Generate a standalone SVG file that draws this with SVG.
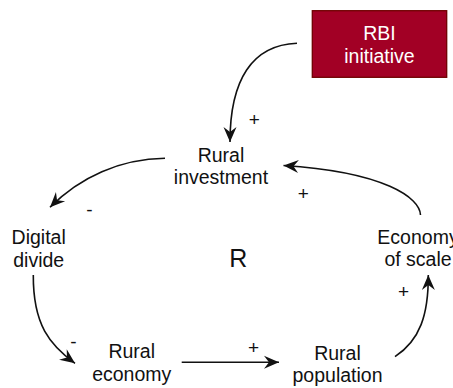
<svg xmlns="http://www.w3.org/2000/svg" width="453" height="388" viewBox="0 0 453 388">
<style>
.lbl{font-family:"Liberation Sans",Arial,sans-serif;font-size:19.5px;fill:#111;text-anchor:middle}
.wht{fill:#fff}
.pol{font-family:"Liberation Sans",Arial,sans-serif;font-size:19px;fill:#111;text-anchor:middle}
.big{font-family:"Liberation Sans",Arial,sans-serif;font-size:25px;fill:#111;text-anchor:middle}
.edge{fill:none;stroke:#111;stroke-width:1.6;marker-end:url(#arr)}
</style>
<defs>
<marker id="arr" markerUnits="userSpaceOnUse" markerWidth="16" markerHeight="14" refX="15" refY="6.5" orient="auto" overflow="visible">
<path d="M0,0 L15,6.5 L0,13 L5,6.5 Z" fill="#111"/>
</marker>
</defs>
<rect width="453" height="388" fill="#fff"/>
<g id="connectors">
<path class="edge" d="M297 43.3 C252 45 230 80 230 142"/>
<path class="edge" d="M420.5 215 C420 198 385 172 283.5 165.5"/>
<path class="edge" d="M165 158.3 C120 159 80 177 50 207.3"/>
<path class="edge" d="M33.3 275 C33 325 50 345 75 363.3"/>
<path class="edge" d="M181.7 362.3 L279 362.3"/>
<path class="edge" d="M395 356.7 C420 340 428.5 315 428.3 275"/>
</g>
<g id="polarities">
<text class="pol" x="254.3" y="125.7">+</text>
<text class="pol" x="303.3" y="199.7">+</text>
<text class="pol" x="89.5" y="216.3">-</text>
<text class="pol" x="73.5" y="348.3">-</text>
<text class="pol" x="253.5" y="354">+</text>
<text class="pol" x="403.5" y="297.7">+</text>
</g>
<g id="rbi">
<rect x="312.3" y="10.7" width="134.4" height="66.6" fill="#a20025" stroke="#6f0000" stroke-width="1.3"/>
<text class="lbl wht" x="379.5" y="40">RBI</text>
<text class="lbl wht" x="379.5" y="63.3">initiative</text>
</g>
<g id="rural-investment">
<text class="lbl" x="221" y="161.7">Rural</text>
<text class="lbl" x="221" y="184.3">investment</text>
</g>
<g id="digital-divide">
<text class="lbl" x="38.7" y="244.3">Digital</text>
<text class="lbl" x="38.7" y="266.7">divide</text>
</g>
<g id="loop-r">
<text class="big" x="238.3" y="266.7">R</text>
</g>
<g id="rural-economy">
<text class="lbl" x="131.7" y="358.3">Rural</text>
<text class="lbl" x="131.7" y="380.5">economy</text>
</g>
<g id="rural-population">
<text class="lbl" x="337.5" y="360">Rural</text>
<text class="lbl" x="337.5" y="382">population</text>
</g>
<g id="economy-of-scale">
<text class="lbl" x="418" y="243.7">Economy</text>
<text class="lbl" x="418" y="265.5">of scale</text>
</g>
</svg>
